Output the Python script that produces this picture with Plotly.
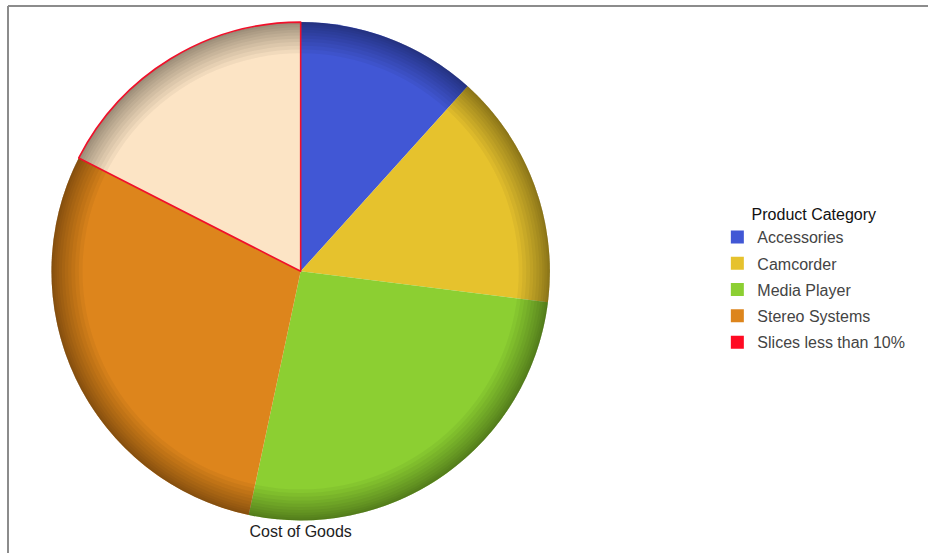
import plotly.graph_objects as go

categories = ["Accessories", "Camcorder", "Media Player", "Stereo Systems", "Slices less than 10%"]
values = [11.7, 15.3, 26.4, 29.2, 17.5]
slice_colors = ["#4157D5", "#E6C22D", "#8CCF32", "#DD851C", "#FCE4C5"]
legend_colors = ["#4157D5", "#E6C22D", "#8CCF32", "#DD851C", "#FF0A22"]
pie_title = "Cost of Goods"
legend_title = "Product Category"

FONT = "Liberation Sans, Arial, sans-serif"
DOMAIN_X = [0.024, 0.624]
DOMAIN_Y = [0.028, 0.960]

fig = go.Figure()

title_font = dict(family=FONT, size=16, color="#222222")
hidden_title_font = dict(family=FONT, size=16, color="rgba(0,0,0,0)")

# base pie
fig.add_trace(go.Pie(
    labels=categories, values=values, sort=False, direction="clockwise", rotation=0,
    marker=dict(colors=slice_colors, line=dict(width=0)),
    textinfo="none", hoverinfo="label+percent", showlegend=False,
    domain=dict(x=DOMAIN_X, y=DOMAIN_Y),
    title=dict(text=pie_title, position="bottom center", font=title_font),
))

# edge shading rings (decorative gradient)
shade_holes = [0.875, 0.89, 0.905, 0.92, 0.933, 0.946, 0.958, 0.969, 0.979, 0.988, 0.995]
for hole in shade_holes:
    fig.add_trace(go.Pie(
        labels=["shade"], values=[1], hole=hole, sort=False,
        marker=dict(colors=["rgba(0,0,0,0.042)"], line=dict(width=0)),
        textinfo="none", hoverinfo="skip", showlegend=False,
        domain=dict(x=DOMAIN_X, y=DOMAIN_Y),
        title=dict(text=pie_title, position="bottom center", font=hidden_title_font),
    ))

# outline of the "other" slice
fig.add_trace(go.Pie(
    labels=categories, values=values, sort=False, direction="clockwise", rotation=0,
    marker=dict(colors=["rgba(0,0,0,0)"] * len(categories),
                line=dict(color=["rgba(0,0,0,0)"] * 4 + ["#F0102A"], width=[0, 0, 0, 0, 1.6])),
    textinfo="none", hoverinfo="skip", showlegend=False,
    domain=dict(x=DOMAIN_X, y=DOMAIN_Y),
    title=dict(text=pie_title, position="bottom center", font=hidden_title_font),
))

# legend entries
for name, col in zip(categories, legend_colors):
    fig.add_trace(go.Scatter(
        x=[None], y=[None], mode="markers", name=name, legendgroup=name,
        marker=dict(symbol="square", size=13, color=col, line=dict(width=0)),
        showlegend=True,
    ))

fig.update_layout(
    width=928, height=553,
    margin=dict(l=0, r=0, t=0, b=0),
    paper_bgcolor="white", plot_bgcolor="white",
    font=dict(family=FONT, size=16, color="#444444"),
    xaxis=dict(visible=False), yaxis=dict(visible=False),
    legend=dict(
        x=0.773, xanchor="left", y=0.495, yanchor="middle",
        title=dict(text=legend_title, side="top center", font=dict(family=FONT, size=16, color="#111111")),
        font=dict(family=FONT, size=16, color="#444444"),
        tracegroupgap=2.5, itemsizing="trace", bgcolor="rgba(0,0,0,0)",
    ),
    shapes=[
        dict(type="line", xref="paper", yref="paper", x0=8 / 928, x1=1.0, y0=1 - 6 / 553, y1=1 - 6 / 553,
             line=dict(color="#8C8C8C", width=2)),
        dict(type="line", xref="paper", yref="paper", x0=8 / 928, x1=8 / 928, y0=0.0, y1=1 - 6 / 553,
             line=dict(color="#8C8C8C", width=2)),
    ],
)

fig.write_html("out.html", config={"displayModeBar": False},
               post_script="document.body.style.margin='0px';")
